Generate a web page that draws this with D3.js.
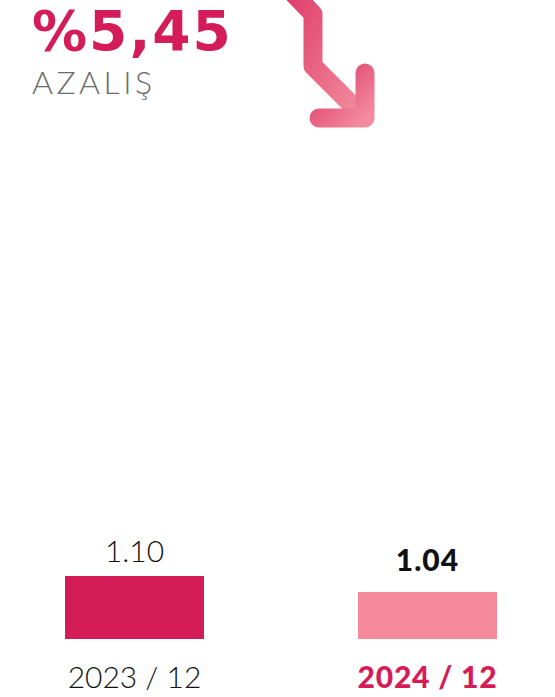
<!DOCTYPE html>
<html>
<head>
<meta charset="utf-8">
<script src="https://cdn.jsdelivr.net/npm/d3@7"></script>
<style>
  body { margin: 0; background: #fff; }
  svg { display: block; }
</style>
</head>
<body>
<div id="container"></div>
<script>
const w = 555;
const h = 697;

// data
const periods = ["2023 / 12", "2024 / 12"];
const values = [1.10, 1.04];
const valueLabels = ["1.10", "1.04"];
const changeLabel = "%5,45";
const changeWord = "AZALIŞ";

const barColors = ["#d31c58", "#f48a9c"];
const crimson = "#d31c58";

const svg = d3.select("#container").append("svg")
              .attr("width", w).attr("height", h);

// arrow gradient
const defs = svg.append("defs");
const grad = defs.append("linearGradient")
   .attr("id", "arrowGrad")
   .attr("x1", "0%").attr("y1", "0%").attr("x2", "100%").attr("y2", "100%");
grad.append("stop").attr("offset", "0%").attr("stop-color", "#de3a6b");
grad.append("stop").attr("offset", "100%").attr("stop-color", "#f28b9c");

// headline
svg.append("text")
   .attr("x", 32).attr("y", 50)
   .attr("font-family", "'DejaVu Sans', sans-serif")
   .attr("font-weight", 700)
   .attr("font-size", 55)
   .attr("letter-spacing", 2)
   .attr("fill", crimson)
   .text(changeLabel);

svg.append("text")
   .attr("x", 32).attr("y", 94)
   .attr("font-family", "Lato, 'Open Sans', sans-serif")
   .attr("font-weight", 300)
   .attr("font-size", 32)
   .attr("letter-spacing", 3.5)
   .attr("fill", "#6b6b6b")
   .text(changeWord);

// arrow
const line = d3.line();
const arrow = svg.append("g")
   .attr("fill", "none")
   .attr("stroke", "url(#arrowGrad)")
   .attr("stroke-width", 19)
   .attr("stroke-linecap", "round")
   .attr("stroke-linejoin", "round");
arrow.append("path")
   .attr("d", line([[288, -12], [313, 14], [313, 66], [358, 111]]));
arrow.append("path")
   .attr("d", line([[365, 73], [365, 118], [319, 118]]));

// bars
const scaleX = d3.scaleBand()
   .domain(periods)
   .range([65, 497])
   .paddingInner(0.5256)
   .paddingOuter(0);

const scaleY = d3.scaleLinear()
   .domain([0.864, 1.10])
   .range([639, 576]);

svg.selectAll("rect.bar").data(values).enter().append("rect")
   .attr("class", "bar")
   .attr("x", (d, i) => scaleX(periods[i]))
   .attr("y", (d) => scaleY(d))
   .attr("width", scaleX.bandwidth())
   .attr("height", (d) => scaleY(0.864) - scaleY(d))
   .attr("fill", (d, i) => barColors[i]);

// value labels
svg.selectAll("text.val").data(values).enter().append("text")
   .attr("class", "val")
   .attr("x", (d, i) => scaleX(periods[i]) + scaleX.bandwidth() / 2)
   .attr("y", (d, i) => scaleY(d) - (i === 1 ? 21 : 14))
   .attr("text-anchor", "middle")
   .attr("font-family", "Lato, 'Open Sans', sans-serif")
   .attr("font-weight", (d, i) => i === 1 ? 900 : 300)
   .attr("font-size", 30)
   .attr("letter-spacing", (d, i) => i === 1 ? 1 : 0)
   .attr("fill", "#111")
   .text((d, i) => valueLabels[i]);

// period labels
svg.selectAll("text.period").data(periods).enter().append("text")
   .attr("class", "period")
   .attr("x", (d) => scaleX(d) + scaleX.bandwidth() / 2)
   .attr("y", 688)
   .attr("text-anchor", "middle")
   .attr("font-family", "Lato, 'Open Sans', sans-serif")
   .attr("font-weight", (d, i) => i === 1 ? 900 : 300)
   .attr("font-size", 30)
   .attr("letter-spacing", (d, i) => i === 1 ? 0.8 : 0)
   .attr("fill", (d, i) => i === 1 ? crimson : "#111")
   .text((d) => d);
</script>
</body>
</html>
